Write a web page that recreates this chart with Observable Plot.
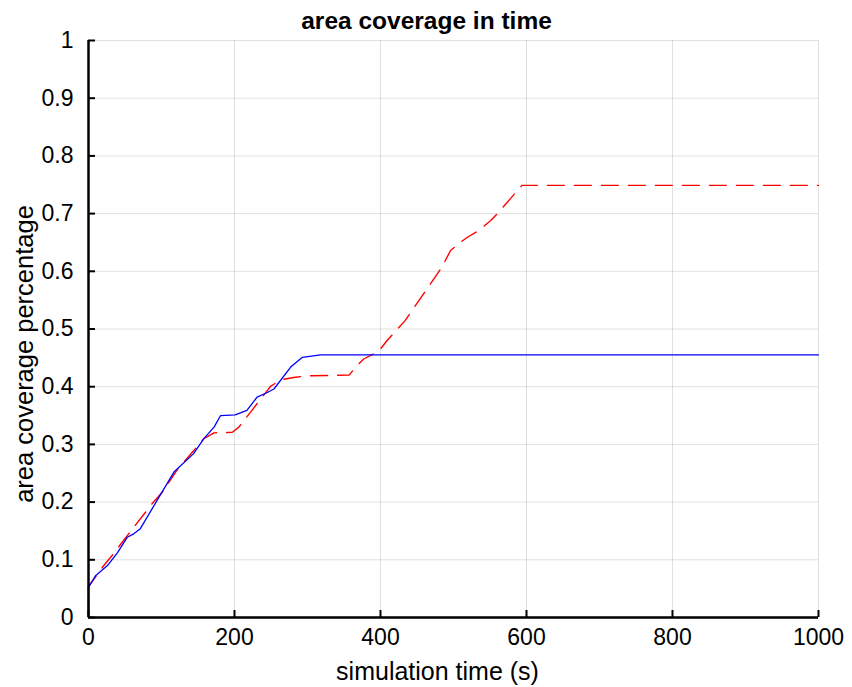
<!DOCTYPE html>
<html>
<head>
<meta charset="utf-8">
<script src="https://cdn.jsdelivr.net/npm/d3@7"></script>
<script src="https://cdn.jsdelivr.net/npm/@observablehq/plot@0.6"></script>
<style>
  html, body { margin: 0; padding: 0; background: #fff; }
</style>
</head>
<body>
<div id="chart"></div>
<script>
const titleText = "area coverage in time";
const xLabel = "simulation time (s)";
const yLabel = "area coverage percentage";
const xTicks = [0, 200, 400, 600, 800, 1000];
const yTicks = [0, 0.1, 0.2, 0.3, 0.4, 0.5, 0.6, 0.7, 0.8, 0.9, 1];

// blue solid series
const blueT = [0, 0, 10, 26, 40, 53, 62, 71, 117, 144, 158, 172, 181, 201, 217, 231, 245, 254, 277, 293, 318, 1000];
const blueV = [0, 0.052, 0.073, 0.090, 0.113, 0.139, 0.145, 0.154, 0.252, 0.284, 0.310, 0.330, 0.350, 0.351, 0.359, 0.382, 0.390, 0.396, 0.434, 0.451, 0.455, 0.455];

// red dashed series
const redT = [0, 0, 10, 19, 32, 55, 87, 101, 121, 144, 158, 172, 197, 206, 238, 249, 263, 281, 300, 357, 368, 377, 398, 409, 434, 443, 464, 484, 496, 507, 519, 535, 551, 560, 578, 594, 1000];
const redV = [0, 0.054, 0.071, 0.087, 0.107, 0.145, 0.197, 0.217, 0.255, 0.289, 0.310, 0.320, 0.321, 0.330, 0.382, 0.400, 0.412, 0.416, 0.419, 0.420, 0.437, 0.448, 0.462, 0.480, 0.515, 0.532, 0.570, 0.607, 0.636, 0.648, 0.659, 0.671, 0.688, 0.700, 0.726, 0.749, 0.749];

const blue = blueT.map((t, i) => ({t, v: blueV[i]}));
const red = redT.map((t, i) => ({t, v: redV[i]}));

const font = "'Liberation Sans', Arial, Helvetica, sans-serif";

const chart = Plot.plot({
  width: 852,
  height: 687,
  marginTop: 40,
  marginBottom: 70,
  marginLeft: 88,
  marginRight: 34,
  style: {fontFamily: font, fontSize: "23px", color: "black", background: "white"},
  x: {domain: [0, 1000]},
  y: {domain: [0, 1]},
  marks: [
    Plot.gridX(xTicks.filter(d => d > 0), {stroke: "#000", strokeOpacity: 0.12, strokeWidth: 1}),
    Plot.gridY(yTicks.filter(d => d > 0), {stroke: "#000", strokeOpacity: 0.12, strokeWidth: 1}),
    Plot.line(red, {x: "t", y: "v", stroke: "#ff0000", strokeWidth: 1.4, strokeDasharray: "17,10"}),
    Plot.line(blue, {x: "t", y: "v", stroke: "#0000ff", strokeWidth: 1.3}),
    Plot.ruleX([0], {stroke: "black", strokeWidth: 2.5}),
    Plot.ruleY([0], {stroke: "black", strokeWidth: 2.5}),
    // inward ticks
    Plot.axisY(yTicks, {anchor: "left", tickSize: 7, dx: 7, strokeWidth: 2, tickFormat: () => "", label: null}),
    Plot.axisX(xTicks, {anchor: "bottom", tickSize: 7, dy: -7, strokeWidth: 2, tickFormat: () => "", label: null}),
    // tick labels
    Plot.axisY(yTicks, {anchor: "left", tickSize: 0, tickPadding: 15, fontSize: 23, tickFormat: d => String(d), label: null}),
    Plot.axisX(xTicks, {anchor: "bottom", tickSize: 0, tickPadding: 11, fontSize: 23, tickFormat: d => String(d), label: null}),
    // titles
    Plot.text([titleText], {frameAnchor: "top", dx: -27, dy: -19, lineAnchor: "middle", textAnchor: "middle", fontSize: 24.5, fontWeight: "bold", fill: "black"}),
    Plot.text([xLabel], {frameAnchor: "bottom", dx: -16, dy: 54, lineAnchor: "middle", textAnchor: "middle", fontSize: 25, fill: "black"}),
    Plot.text([yLabel], {frameAnchor: "left", dx: -64, dy: 25, rotate: -90, lineAnchor: "middle", textAnchor: "middle", fontSize: 25.5, fill: "black"})
  ]
});
d3.select(chart).selectAll("g[aria-label='y-axis tick label'] text, g[aria-label='x-axis tick label'] text").attr("font-size", 23);
document.getElementById("chart").appendChild(chart);
</script>
</body>
</html>
